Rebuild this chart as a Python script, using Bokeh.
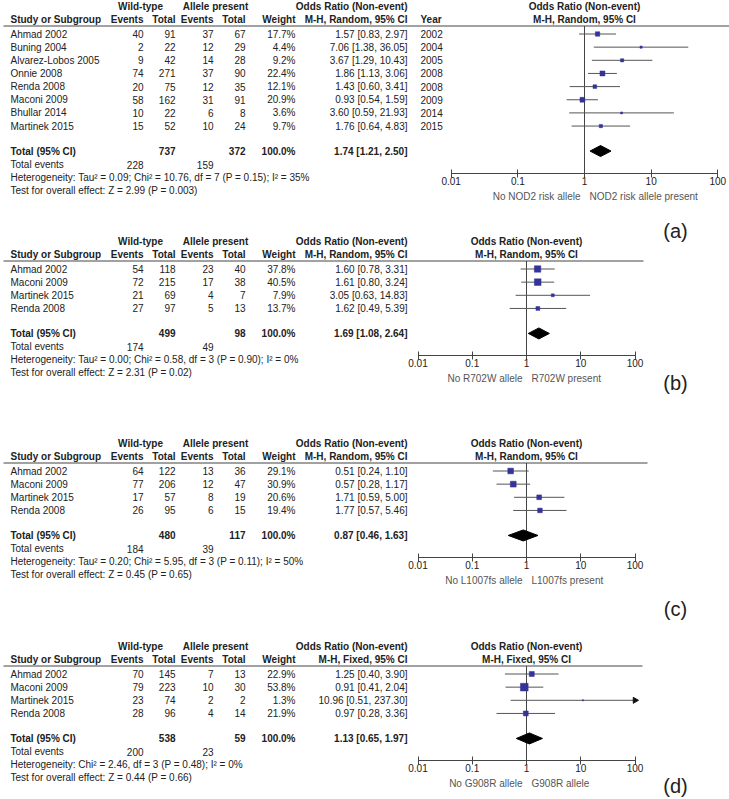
import numpy as np
from bokeh.plotting import figure
from bokeh.models import Range1d, LogScale, LinearAxis, FixedTicker, CustomJSTickFormatter
from bokeh.embed import file_html
from bokeh.resources import INLINE
from bokeh.core.properties import value

# ---------------- data ----------------
# (a) NOD2 risk allele
studies_a = ["Ahmad 2002", "Buning 2004", "Alvarez-Lobos 2005", "Onnie 2008",
             "Renda 2008", "Maconi 2009", "Bhullar 2014", "Martinek 2015"]
wt_events_a = [40, 2, 9, 74, 20, 58, 10, 15]
wt_total_a = [91, 22, 42, 271, 75, 162, 22, 52]
al_events_a = [37, 12, 14, 37, 12, 31, 6, 10]
al_total_a = [67, 29, 28, 90, 35, 91, 8, 24]
weight_a = [17.7, 4.4, 9.2, 22.4, 12.1, 20.9, 3.6, 9.7]
or_a = [1.57, 7.06, 3.67, 1.86, 1.43, 0.93, 3.60, 1.76]
lo_a = [0.83, 1.38, 1.29, 1.13, 0.60, 0.54, 0.59, 0.64]
hi_a = [2.97, 36.05, 10.43, 3.06, 3.41, 1.59, 21.93, 4.83]
year_a = [2002, 2004, 2005, 2008, 2008, 2009, 2014, 2015]
totals_a = [737, 372]
pooled_a = [1.74, 1.21, 2.50]
events_a = [228, 159]
het_a = "Heterogeneity: Tau\u00b2 = 0.09; Chi\u00b2 = 10.76, df = 7 (P = 0.15); I\u00b2 = 35%"
test_a = "Test for overall effect: Z = 2.99 (P = 0.003)"
method_a = "M-H, Random, 95% CI"
favours_a = ["No NOD2 risk allele", "NOD2 risk allele present"]

# (b) R702W
studies_b = ["Ahmad 2002", "Maconi 2009", "Martinek 2015", "Renda 2008"]
wt_events_b = [54, 72, 21, 27]
wt_total_b = [118, 215, 69, 97]
al_events_b = [23, 17, 4, 5]
al_total_b = [40, 38, 7, 13]
weight_b = [37.8, 40.5, 7.9, 13.7]
or_b = [1.60, 1.61, 3.05, 1.62]
lo_b = [0.78, 0.80, 0.63, 0.49]
hi_b = [3.31, 3.24, 14.83, 5.39]
totals_b = [499, 98]
pooled_b = [1.69, 1.08, 2.64]
events_b = [174, 49]
het_b = "Heterogeneity: Tau\u00b2 = 0.00; Chi\u00b2 = 0.58, df = 3 (P = 0.90); I\u00b2 = 0%"
test_b = "Test for overall effect: Z = 2.31 (P = 0.02)"
method_b = "M-H, Random, 95% CI"
favours_b = ["No R702W allele", "R702W present"]

# (c) L1007fs
studies_c = ["Ahmad 2002", "Maconi 2009", "Martinek 2015", "Renda 2008"]
wt_events_c = [64, 77, 17, 26]
wt_total_c = [122, 206, 57, 95]
al_events_c = [13, 12, 8, 6]
al_total_c = [36, 47, 19, 15]
weight_c = [29.1, 30.9, 20.6, 19.4]
or_c = [0.51, 0.57, 1.71, 1.77]
lo_c = [0.24, 0.28, 0.59, 0.57]
hi_c = [1.10, 1.17, 5.00, 5.46]
totals_c = [480, 117]
pooled_c = [0.87, 0.46, 1.63]
events_c = [184, 39]
het_c = "Heterogeneity: Tau\u00b2 = 0.20; Chi\u00b2 = 5.95, df = 3 (P = 0.11); I\u00b2 = 50%"
test_c = "Test for overall effect: Z = 0.45 (P = 0.65)"
method_c = "M-H, Random, 95% CI"
favours_c = ["No L1007fs allele", "L1007fs present"]

# (d) G908R
studies_d = ["Ahmad 2002", "Maconi 2009", "Martinek 2015", "Renda 2008"]
wt_events_d = [70, 79, 23, 28]
wt_total_d = [145, 223, 74, 96]
al_events_d = [7, 10, 2, 4]
al_total_d = [13, 30, 2, 14]
weight_d = [22.9, 53.8, 1.3, 21.9]
or_d = [1.25, 0.91, 10.96, 0.97]
lo_d = [0.40, 0.41, 0.51, 0.28]
hi_d = [3.90, 2.04, 237.30, 3.36]
totals_d = [538, 59]
pooled_d = [1.13, 0.65, 1.97]
events_d = [200, 23]
het_d = "Heterogeneity: Chi\u00b2 = 2.46, df = 3 (P = 0.48); I\u00b2 = 0%"
test_d = "Test for overall effect: Z = 0.44 (P = 0.66)"
method_d = "M-H, Fixed, 95% CI"
favours_d = ["No G908R allele", "G908R allele"]

axis_ticks = [0.01, 0.1, 1, 10, 100]
col_headers = ["Study or Subgroup", "Events", "Total", "Events", "Total", "Weight"]
group_headers = ["Wild-type", "Allele present"]
or_header = "Odds Ratio (Non-event)"
tags = ["(a)", "(b)", "(c)", "(d)"]

# ---------------- style / layout ----------------
W, H = 729, 799
FONT = "Liberation Sans"
TXT = "#222222"
GREY = "#555555"
BLUE = "#333399"
FS = "10px"

p = figure(width=W, height=H, output_backend="svg", toolbar_location=None,
           x_range=Range1d(0, W), y_range=Range1d(H, 0),
           x_axis_location=None, y_axis_location=None, min_border=0,
           outline_line_color=None, background_fill_color="white",
           border_fill_color="white")
for g in p.grid:
    g.visible = False


def txt(x, y, s, align="left", bold=False, size=FS, color=TXT, rng=None, x_offset=0):
    s = list(s)
    n = len(s)
    xs = list(x) if isinstance(x, (list, tuple, np.ndarray)) else [x] * n
    ys = list(y) if isinstance(y, (list, tuple, np.ndarray)) else [y] * n
    kw = dict(x=xs, y=ys, text=s, text_align=align, text_baseline="middle",
              text_font=value(FONT), text_font_size=size, text_color=color,
              text_font_style="bold" if bold else "normal", x_offset=x_offset)
    if rng is not None:
        kw["x_range_name"] = rng
    p.text(**kw)


# column positions (px)
X_STUDY, X_WE, X_WT, X_AE, X_AT, X_WGT, X_OR, X_YEAR = 10, 143, 175, 213, 245, 295, 407, 420
X_WILD, X_ALLELE = 140, 215


def panel(key, top, x0, x1, line_end, studies, we, wt, ae, at, wgt, orr, lo, hi,
          totals, pooled, events, het, test, method, favours, tag, tag_y, years=None):
    # log scale for forest part: 0.01 -> x0 px, 100 -> x1 px
    d = 4.0 / (x1 - x0)
    start = 10 ** (-2 - x0 * d)
    end = 10 ** (2 + (W - x1) * d)
    p.extra_x_ranges[key] = Range1d(start, end)
    p.extra_x_scales[key] = LogScale()

    hdr1, hdr2, line_y = top, top + 13, top + 19.5
    n = len(studies)
    rows = [top + 27.5 + i * 13.15 for i in range(n)]
    total_y = rows[-1] + 25
    tev_y = total_y + 13.5
    het_y = tev_y + 13
    test_y = het_y + 13
    axis_y = total_y + 22
    fav_y = axis_y + 23

    # headers
    txt([X_WILD, X_ALLELE], hdr1, group_headers, align="center", bold=True)
    txt([X_STUDY], hdr2, col_headers[:1], bold=True)
    txt([X_WE, X_WT, X_AE, X_AT, X_WGT], hdr2, col_headers[1:], align="right", bold=True)
    txt([X_OR], hdr1, [or_header], align="right", bold=True)
    txt([X_OR], hdr2, [method], align="right", bold=True)
    if years is not None:
        txt([X_YEAR], hdr2, ["Year"], bold=True)
    txt([1], hdr1, [or_header], align="center", bold=True, rng=key)
    txt([1], hdr2, [method], align="center", bold=True, rng=key)
    p.segment(x0=[3], y0=[line_y], x1=[line_end], y1=[line_y], line_color="#444444", line_width=1)

    # study rows
    txt(X_STUDY, rows, studies)
    txt(X_WE, rows, [str(v) for v in we], align="right")
    txt(X_WT, rows, [str(v) for v in wt], align="right")
    txt(X_AE, rows, [str(v) for v in ae], align="right")
    txt(X_AT, rows, [str(v) for v in at], align="right")
    txt(X_WGT, rows, [f"{v:.1f}%" for v in wgt], align="right")
    txt(X_OR, rows, [f"{o:.2f} [{l:.2f}, {h:.2f}]" for o, l, h in zip(orr, lo, hi)], align="right")
    if years is not None:
        txt(X_YEAR, rows, [str(v) for v in years])

    # totals
    txt([X_STUDY], total_y, ["Total (95% CI)"], bold=True)
    txt([X_WT, X_AT, X_WGT, X_OR], total_y,
        [str(totals[0]), str(totals[1]), "100.0%",
         f"{pooled[0]:.2f} [{pooled[1]:.2f}, {pooled[2]:.2f}]"], align="right", bold=True)
    txt([X_STUDY], tev_y, ["Total events"])
    txt([X_WE, X_AE], tev_y, [str(events[0]), str(events[1])], align="right")
    txt([X_STUDY], het_y, [het])
    txt([X_STUDY], test_y, [test])

    # forest: line of no effect
    p.segment(x0=[1], y0=[line_y], x1=[1], y1=[axis_y], line_color="#444444",
              line_width=1, x_range_name=key)
    # CIs
    hi_arr = np.array(hi, dtype=float)
    lo_arr = np.array(lo, dtype=float)
    hi_cl = np.minimum(hi_arr, axis_ticks[-1])
    lo_cl = np.maximum(lo_arr, axis_ticks[0])
    p.segment(x0=lo_cl, y0=rows, x1=hi_cl, y1=rows, line_color=GREY, line_width=1,
              x_range_name=key)
    clipped = hi_arr > axis_ticks[-1]
    if clipped.any():
        p.scatter(x=hi_cl[clipped], y=np.array(rows)[clipped], marker="triangle",
                  size=6, angle=-np.pi / 2, fill_color="#111111", line_color="#111111",
                  x_range_name=key)
    sizes = 1.05 * np.sqrt(np.array(wgt))
    p.scatter(x=orr, y=rows, marker="square", size=sizes, fill_color=BLUE,
              line_color=BLUE, line_width=0.5, x_range_name=key)
    # pooled diamond
    hd = 5.5
    p.patches(xs=[[pooled[1], pooled[0], pooled[2], pooled[0]]],
              ys=[[total_y, total_y - hd, total_y, total_y + hd]],
              fill_color="black", line_color="black", x_range_name=key)

    # axis
    ax = LinearAxis(x_range_name=key, fixed_location=axis_y,
                    ticker=FixedTicker(ticks=axis_ticks, minor_ticks=[]),
                    formatter=CustomJSTickFormatter(code="return tick.toString()"),
                    bounds=(axis_ticks[0], axis_ticks[-1]))
    ax.major_tick_in = 4
    ax.major_tick_out = 4
    ax.minor_tick_in = 0
    ax.minor_tick_out = 0
    ax.major_label_standoff = 0
    ax.major_label_text_font = FONT
    ax.major_label_text_font_size = FS
    ax.major_label_text_color = TXT
    ax.axis_line_color = "#444444"
    ax.major_tick_line_color = "#444444"
    p.add_layout(ax, "below")

    # favours labels
    txt([1], fav_y, [favours[0]], align="right", color=GREY, rng=key, x_offset=-4)
    txt([1], fav_y, [favours[1]], align="left", color=GREY, rng=key, x_offset=5)

    # panel tag
    txt([675], tag_y, [tag], align="center", size="20px", color=TXT)


panel("a", 6, 450.7, 717.3, 729, studies_a, wt_events_a, wt_total_a, al_events_a, al_total_a,
      weight_a, or_a, lo_a, hi_a, totals_a, pooled_a, events_a, het_a, test_a, method_a,
      favours_a, tags[0], 230, years=year_a)
panel("b", 241, 417.5, 634.5, 643, studies_b, wt_events_b, wt_total_b, al_events_b, al_total_b,
      weight_b, or_b, lo_b, hi_b, totals_b, pooled_b, events_b, het_b, test_b, method_b,
      favours_b, tags[1], 382)
panel("c", 443, 417.5, 634.5, 647, studies_c, wt_events_c, wt_total_c, al_events_c, al_total_c,
      weight_c, or_c, lo_c, hi_c, totals_c, pooled_c, events_c, het_c, test_c, method_c,
      favours_c, tags[2], 608)
panel("d", 646, 417.5, 634.5, 642, studies_d, wt_events_d, wt_total_d, al_events_d, al_total_d,
      weight_d, or_d, lo_d, hi_d, totals_d, pooled_d, events_d, het_d, test_d, method_d,
      favours_d, tags[3], 785)

open("out.html", "w").write(file_html(p, INLINE))
